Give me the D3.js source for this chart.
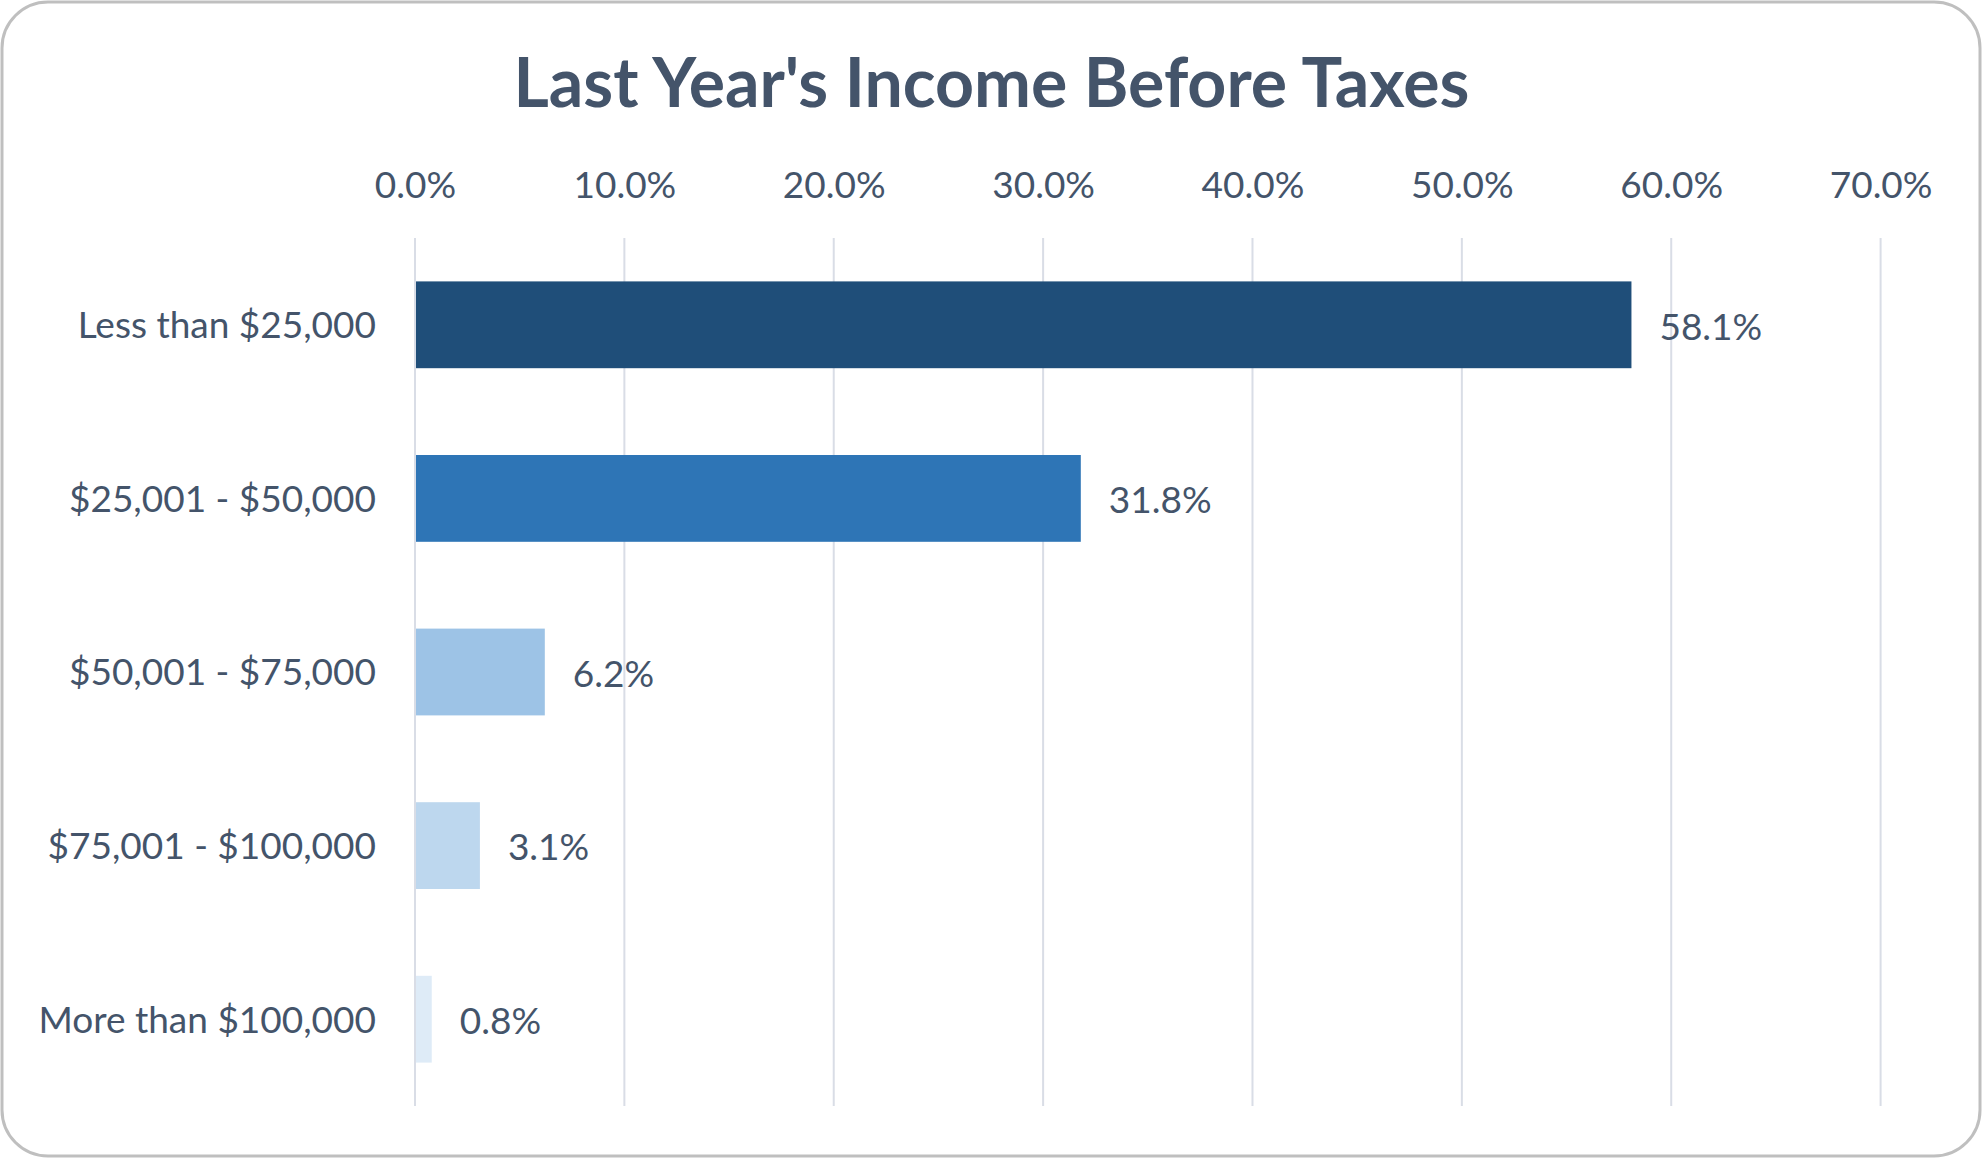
<!DOCTYPE html>
<html>
<head>
<meta charset="utf-8">
<script src="https://cdn.jsdelivr.net/npm/d3@7"></script>
<style>
  html, body { margin: 0; padding: 0; background: #ffffff; }
  svg { display: block; }
</style>
</head>
<body>
<svg id="chart" width="1983" height="1158"></svg>
<script>
const title = "Last Year's Income Before Taxes";
const categories = ["Less than $25,000", "$25,001 - $50,000", "$50,001 - $75,000", "$75,001 - $100,000", "More than $100,000"];
const values = [58.1, 31.8, 6.2, 3.1, 0.8];
const barColors = ["#1F4E79", "#2E75B6", "#9DC3E6", "#BDD7EE", "#DEEBF7"];
const tickValues = [0, 10, 20, 30, 40, 50, 60, 70];

const W = 1983, H = 1158;
const textColor = "#44546A";
const font = "Lato, 'Open Sans', sans-serif";
const labelSize = 37;

const svg = d3.select("#chart");

// outer rounded frame
svg.append("rect")
  .attr("x", 2).attr("y", 2)
  .attr("width", W - 5).attr("height", H - 4)
  .attr("rx", 46).attr("ry", 46)
  .attr("fill", "#ffffff")
  .attr("stroke", "#BFBFBF")
  .attr("stroke-width", 3);

const margin = { left: 415, right: W - 1880.6, top: 238, bottom: H - 1106 };

const x = d3.scaleLinear().domain([0, 70]).range([margin.left, W - margin.right]);
const y = d3.scaleBand().domain(categories).range([margin.top, H - margin.bottom])
  .paddingInner(0.5).paddingOuter(0.25);

// title
svg.append("text")
  .attr("x", W / 2).attr("y", 107)
  .attr("text-anchor", "middle")
  .attr("font-family", font)
  .attr("font-weight", 700)
  .attr("font-size", 68)
  .attr("fill", textColor)
  .text(title);

// gridlines
svg.append("g")
  .selectAll("line")
  .data(tickValues)
  .join("line")
  .attr("x1", d => x(d)).attr("x2", d => x(d))
  .attr("y1", margin.top).attr("y2", H - margin.bottom)
  .attr("stroke", "#D9DDE6")
  .attr("stroke-width", 2);

// top axis labels
const xAxis = d3.axisTop(x).tickValues(tickValues).tickSize(0).tickPadding(0)
  .tickFormat(d => d.toFixed(1) + "%");
const gx = svg.append("g").attr("transform", `translate(0,198)`).call(xAxis);
gx.select(".domain").remove();
gx.selectAll("text")
  .attr("dy", 0)
  .attr("font-family", font)
  .attr("font-size", labelSize)
  .attr("fill", textColor);

// bars
svg.append("g")
  .selectAll("rect")
  .data(values)
  .join("rect")
  .attr("x", x(0) + 1)
  .attr("y", (d, i) => y(categories[i]))
  .attr("width", d => x(d) - x(0) - 1)
  .attr("height", y.bandwidth())
  .attr("fill", (d, i) => barColors[i]);

// category labels (left axis)
const yAxis = d3.axisLeft(y).tickSize(0).tickPadding(39);
const gy = svg.append("g").attr("transform", `translate(${x(0)},0)`).call(yAxis);
gy.select(".domain").remove();
gy.selectAll("text")
  .attr("dy", "0.36em")
  .attr("font-family", font)
  .attr("font-size", labelSize)
  .attr("fill", textColor);

// value labels
svg.append("g")
  .selectAll("text")
  .data(values)
  .join("text")
  .attr("x", d => x(d) + 28)
  .attr("y", (d, i) => y(categories[i]) + y.bandwidth() / 2)
  .attr("dy", "0.4em")
  .attr("font-family", font)
  .attr("font-size", labelSize)
  .attr("fill", textColor)
  .text(d => d.toFixed(1) + "%");
</script>
</body>
</html>
